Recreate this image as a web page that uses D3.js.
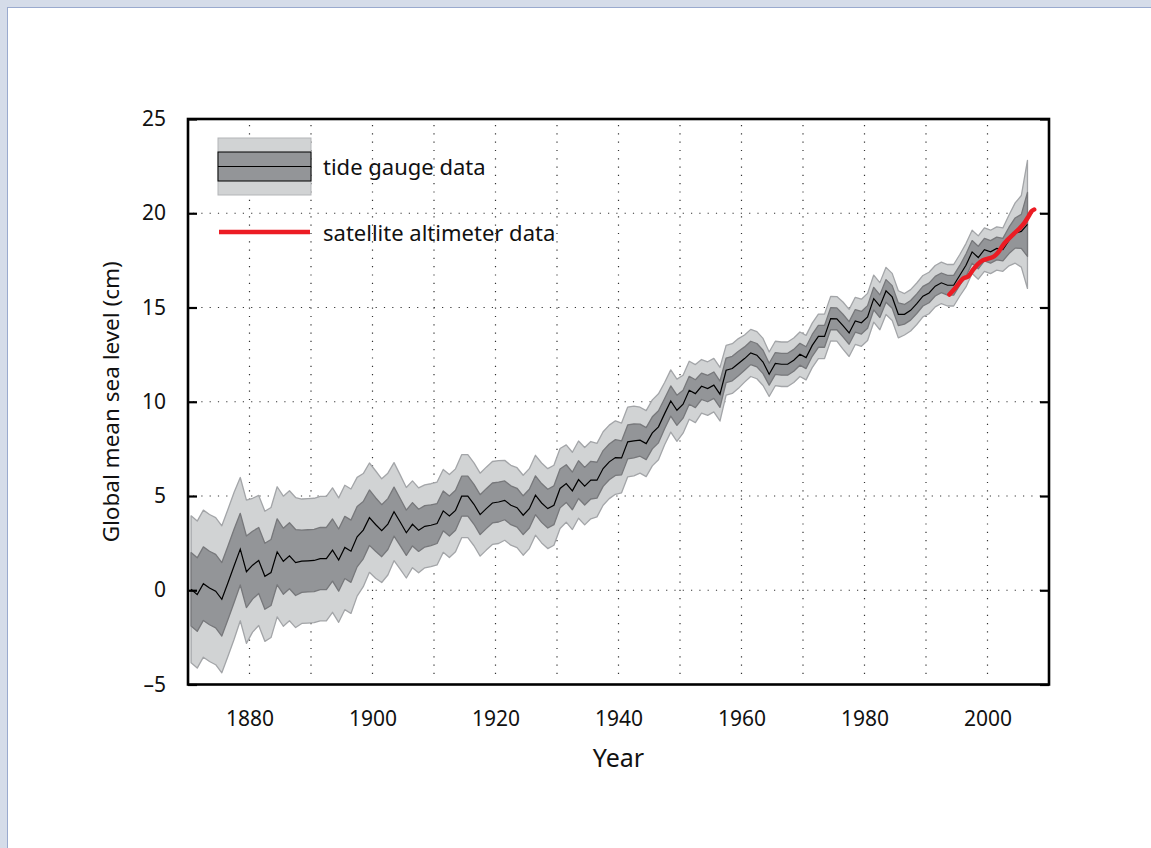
<!DOCTYPE html>
<html><head><meta charset="utf-8">
<script src="https://cdn.jsdelivr.net/npm/d3@7"></script>
<style>
html,body{margin:0;padding:0;background:#d5dce9;}
body{width:1151px;height:848px;overflow:hidden;position:relative;}
#page{position:absolute;left:7px;top:7px;width:1200px;height:900px;background:#fff;border-left:1px solid #9aaace;border-top:1px solid #9aaace;}
svg{position:absolute;left:0;top:0;}
text{font-family:"Noto Sans","Liberation Sans",sans-serif;fill:#111;}
</style></head><body><div id="page"></div>
<svg id="chart" width="1151" height="848"></svg>
<script>
// ---- data ----
const firstYear = 1870;
const tideMean = [
0.05,-0.23,0.35,0.12,-0.05,-0.48,0.4,1.3,2.18,0.98,
1.33,1.58,0.74,0.94,2.04,1.54,1.83,1.47,1.54,1.56,
1.58,1.68,1.68,2.13,1.6,2.27,2.07,2.84,3.19,3.85,
3.49,3.16,3.51,4.17,3.62,3.05,3.5,3.18,3.39,3.45,
3.54,4.21,3.94,4.24,4.99,4.99,4.56,4.01,4.33,4.63,
4.68,4.77,4.51,4.38,3.98,4.33,5.04,4.63,4.33,4.51,
5.4,5.66,5.27,5.87,5.52,5.84,5.84,6.46,6.81,7.04,
7.02,7.87,7.92,7.96,7.78,8.35,8.67,9.37,10.04,9.55,
9.87,10.61,10.43,10.82,10.7,10.88,10.4,11.67,11.76,12.03,
12.29,12.59,12.47,12.11,11.46,12.03,11.99,11.99,12.2,12.52,
12.34,12.99,13.47,13.47,14.41,14.4,14.04,13.65,14.29,14.19,
14.5,15.47,15.07,15.88,15.56,14.64,14.64,14.85,15.2,15.6,
15.77,16.13,16.31,16.18,16.18,16.71,17.24,17.95,17.65,18.07,
17.95,18.13,18.07,18.56,18.95,19.04,19.41];
// half-width of the dark (inner) band
const innerErr = [
1.95,1.95,1.95,1.95,1.95,1.95,1.95,1.95,1.9,1.9,
1.8,1.75,1.75,1.75,1.75,1.75,1.75,1.75,1.65,1.65,
1.65,1.65,1.65,1.65,1.65,1.65,1.65,1.6,1.52,1.47,
1.42,1.38,1.35,1.3,1.25,1.2,1.15,1.12,1.1,1.08,
1.06,1.06,1.06,1.06,1.06,1.06,1.06,1.06,1.06,1.06,
1.06,1.03,1.03,1.03,1.03,1.03,1.03,1.03,1.03,1.03,
1.03,1.0,1.0,1.0,1.0,1.0,0.95,0.95,0.95,0.95,
0.9,0.9,0.9,0.85,0.85,0.85,0.85,0.8,0.8,0.8,
0.74,0.74,0.74,0.7,0.7,0.7,0.7,0.65,0.65,0.65,
0.62,0.62,0.62,0.62,0.58,0.58,0.58,0.58,0.58,0.58,
0.58,0.58,0.58,0.58,0.58,0.58,0.6,0.6,0.6,0.6,
0.6,0.6,0.6,0.6,0.6,0.6,0.52,0.52,0.52,0.52,
0.52,0.52,0.52,0.52,0.52,0.52,0.6,0.6,0.6,0.6,
0.6,0.6,0.6,0.7,0.8,0.9,1.7];
// half-width of the light (outer) band
const outerErr = [
3.9,3.9,3.9,3.9,3.9,3.9,3.9,3.9,3.8,3.8,
3.55,3.45,3.45,3.45,3.45,3.45,3.45,3.45,3.3,3.3,
3.3,3.3,3.3,3.3,3.3,3.3,3.3,3.15,3.0,2.9,
2.85,2.75,2.7,2.6,2.5,2.4,2.3,2.25,2.2,2.2,
2.2,2.2,2.2,2.2,2.2,2.2,2.2,2.2,2.2,2.2,
2.2,2.12,2.12,2.12,2.12,2.12,2.12,2.12,2.12,2.12,
2.12,2.05,2.05,2.05,2.05,2.05,1.95,1.95,1.95,1.95,
1.85,1.85,1.85,1.75,1.75,1.75,1.75,1.65,1.65,1.65,
1.54,1.54,1.54,1.42,1.42,1.42,1.42,1.32,1.32,1.32,
1.25,1.25,1.25,1.25,1.18,1.18,1.18,1.18,1.18,1.18,
1.18,1.18,1.18,1.18,1.18,1.18,1.25,1.25,1.25,1.25,
1.25,1.25,1.25,1.25,1.25,1.25,1.1,1.1,1.1,1.1,
1.1,1.1,1.1,1.1,1.1,1.1,1.15,1.15,1.15,1.15,
1.15,1.15,1.15,1.35,1.6,1.9,3.4];
const satYear  = [1993.8,1994.9,1996.0,1996.9,1997.6,1998.4,1999.2,2000.1,2001.1,2001.8,2002.5,2003.3,2004.3,2005.2,2006.0,2006.7,2007.2,2007.6];
const satLevel = [15.69,16.09,16.53,16.66,16.98,17.29,17.5,17.59,17.72,17.95,18.3,18.6,18.92,19.19,19.49,19.85,20.12,20.2];
const yearTicks  = [1880,1900,1920,1940,1960,1980,2000];
const yearGrid   = [1880,1890,1900,1910,1920,1930,1940,1950,1960,1970,1980,1990,2000];
const levelTicks = [-5,0,5,10,15,20,25];
const levelGrid  = [0,5,10,15,20];
const legendLabels = ["tide gauge data","satellite altimeter data"];

// ---- layout ----
const svg = d3.select("#chart");
const L = 188, R = 1049, T = 119, B = 684.5;
const x = d3.scaleLinear().domain([1870,2010]).range([L,R]);
const y = d3.scaleLinear().domain([-5,25]).range([B,T]);

const tide = tideMean.map((m,i)=>({yr:firstYear+i+0.5, m, e1:innerErr[i], e2:outerErr[i]}));

// grid
const grid = svg.append("g").attr("stroke","#333").attr("stroke-width",1.2).attr("stroke-dasharray","1.2,7.1");
grid.selectAll("line.v").data(yearGrid).join("line").attr("class","v")
  .attr("x1",d=>x(d)).attr("x2",d=>x(d)).attr("y1",y(25)+6).attr("y2",y(-5)-4);
grid.selectAll("line.h").data(levelGrid).join("line").attr("class","h")
  .attr("y1",d=>y(d)).attr("y2",d=>y(d)).attr("x1",x(1870)+5).attr("x2",x(2010)-2);

// bands
const outerArea = d3.area().x(d=>x(d.yr)).y0(d=>y(d.m-d.e2)).y1(d=>y(d.m+d.e2));
const innerArea = d3.area().x(d=>x(d.yr)).y0(d=>y(d.m-d.e1)).y1(d=>y(d.m+d.e1));
svg.append("path").datum(tide).attr("d",outerArea).attr("fill","#d1d3d4").attr("stroke","#a3a5a8").attr("stroke-width",1.3).attr("stroke-linejoin","round");
svg.append("path").datum(tide).attr("d",innerArea).attr("fill","#939598").attr("stroke","#77787b").attr("stroke-width",1.3).attr("stroke-linejoin","round");
svg.append("path").datum(tide).attr("d",d3.line().x(d=>x(d.yr)).y(d=>y(d.m)))
  .attr("fill","none").attr("stroke","#000").attr("stroke-width",1.2);

// satellite
const sat = satYear.map((t,i)=>({t, v:satLevel[i]}));
svg.append("path").datum(sat).attr("d",d3.line().curve(d3.curveMonotoneX).x(d=>x(d.t)).y(d=>y(d.v)))
  .attr("fill","none").attr("stroke","#ec1c24").attr("stroke-width",4.5).attr("stroke-linecap","round");

// axes
const fs = 21;
const ax = svg.append("g").attr("transform",`translate(${L},0)`)
  .call(d3.axisLeft(y).tickValues(levelTicks).tickSize(-9).tickPadding(22).tickFormat(d=>d<0?"\u2013"+Math.abs(d):d));
ax.select(".domain").remove();
ax.selectAll("line").attr("stroke","#000").attr("stroke-width",2.2);
ax.selectAll("text").attr("font-size",fs).attr("fill","#111").attr("font-family","Noto Sans");
const axR = svg.append("g").attr("transform",`translate(${R},0)`)
  .call(d3.axisRight(y).tickValues(levelTicks).tickSize(-9).tickFormat(""));
axR.select(".domain").remove();
axR.selectAll("line").attr("stroke","#000").attr("stroke-width",2.2);
const axB = svg.append("g").attr("transform",`translate(0,${B})`)
  .call(d3.axisBottom(x).tickValues(yearTicks).tickSize(0).tickPadding(26.5).tickFormat(d3.format("d")));
axB.select(".domain").remove();
axB.selectAll("text").attr("font-size",fs).attr("fill","#111").attr("font-family","Noto Sans");

// frame
svg.append("rect").attr("x",L).attr("y",T).attr("width",R-L).attr("height",B-T)
  .attr("fill","none").attr("stroke","#000").attr("stroke-width",2.6);

// axis titles
svg.append("text").attr("x",(L+R)/2).attr("y",767).attr("text-anchor","middle").attr("font-size",25).text("Year");
svg.append("text").attr("transform",`translate(119,${(T+B)/2}) rotate(-90)`).attr("text-anchor","middle").attr("font-size",22.5).text("Global mean sea level (cm)");

// legend
const lg = svg.append("g");
lg.append("rect").attr("x",218).attr("y",138).attr("width",93).attr("height",57).attr("fill","#d1d3d4").attr("stroke","#b3b5b8").attr("stroke-width",1);
lg.append("rect").attr("x",218).attr("y",152).attr("width",93).attr("height",29).attr("fill","#939598").attr("stroke","#000").attr("stroke-width",1);
lg.append("line").attr("x1",218).attr("x2",311).attr("y1",166.5).attr("y2",166.5).attr("stroke","#000").attr("stroke-width",1);
lg.append("line").attr("x1",219).attr("x2",310).attr("y1",232).attr("y2",232).attr("stroke","#ec1c24").attr("stroke-width",4.5);
lg.append("text").attr("x",323).attr("y",175).attr("font-size",22).text(legendLabels[0]);
lg.append("text").attr("x",323).attr("y",241).attr("font-size",22).text(legendLabels[1]);
</script>
</body></html>
